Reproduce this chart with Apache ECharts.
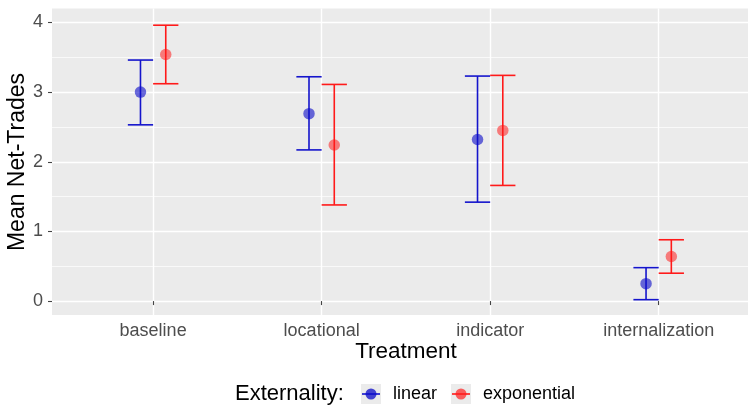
<!DOCTYPE html>
<html>
<head>
<meta charset="utf-8">
<script src="https://cdn.jsdelivr.net/npm/echarts@6/dist/echarts.min.js"></script>
<style>html,body{margin:0;padding:0;background:#fff}#c{width:748px;height:408px}</style>
</head>
<body>
<div id="c"></div>
<script>
// ---- data ----
const categories = ['baseline', 'locational', 'indicator', 'internalization'];
const yTicks = [0, 1, 2, 3, 4];
const linearMean = [3.0, 2.69, 2.32, 0.25];
const linearLow  = [2.53, 2.17, 1.42, 0.02];
const linearHigh = [3.46, 3.22, 3.23, 0.48];
const expMean = [3.54, 2.24, 2.45, 0.64];
const expLow  = [3.12, 1.38, 1.66, 0.40];
const expHigh = [3.96, 3.11, 3.24, 0.88];

const FONT = '"Liberation Sans", Arial, sans-serif';
const DODGE = 0.075;
const BLUE_LINE = '#1414cc', RED_LINE = '#ff1a1a';
const BLUE_PT = 'rgba(10,10,200,0.75)', RED_PT = 'rgba(255,25,25,0.68)';

function barData(low, high, off) {
  return categories.map((c, i) => [i + 1 + off, low[i], high[i]]);
}
function ptData(mean, off) {
  return categories.map((c, i) => [i + 1 + off, mean[i]]);
}
function errRender(color) {
  return function (params, api) {
    const x = api.value(0), lo = api.value(1), hi = api.value(2);
    const top = api.coord([x, hi]), bot = api.coord([x, lo]);
    const half = api.size([DODGE, 0])[0];
    const st = { stroke: color, lineWidth: 1.6 };
    return {
      type: 'group',
      children: [
        { type: 'line', shape: { x1: top[0], y1: top[1], x2: bot[0], y2: bot[1] }, style: st },
        { type: 'line', shape: { x1: top[0] - half, y1: top[1], x2: top[0] + half, y2: top[1] }, style: st },
        { type: 'line', shape: { x1: bot[0] - half, y1: bot[1], x2: bot[0] + half, y2: bot[1] }, style: st }
      ]
    };
  };
}

const chart = echarts.init(document.getElementById('c'), null, { renderer: 'canvas' });
const yMinor = [0.5, 1.5, 2.5, 3.5];
chart.setOption({
  animation: false,
  backgroundColor: '#ffffff',
  grid: { left: 52, right: 0, top: 8.5, bottom: 93, show: true, backgroundColor: '#EBEBEB', borderWidth: 0 },
  xAxis: {
    type: 'value', min: 0.4, max: 4.53,
    axisLine: { show: false },
    axisTick: { show: true, length: 4, lineStyle: { color: '#444444', width: 1.1 }, customValues: [1, 2, 3, 4] },
    axisLabel: { customValues: [1, 2, 3, 4], formatter: v => categories[Math.round(v) - 1] || '',
      color: '#4d4d4d', fontSize: 18, fontFamily: FONT, margin: 7 },
    splitLine: { show: true, lineStyle: { color: '#ffffff', width: 1.4 } }
  },
  yAxis: [{
    type: 'value', min: -0.2, max: 4.2,
    axisLine: { show: false },
    axisTick: { show: true, length: 4, lineStyle: { color: '#444444', width: 1.1 }, customValues: yTicks },
    axisLabel: { customValues: yTicks, color: '#4d4d4d', fontSize: 18, fontFamily: FONT, margin: 9 },
    splitLine: { show: true, lineStyle: { color: '#ffffff', width: 1.4 } }
  }, {
    type: 'value', min: -0.2, max: 4.2, position: 'left',
    axisLine: { show: false },
    axisTick: { show: false, customValues: yMinor },
    axisLabel: { show: false, customValues: yMinor },
    splitLine: { show: true, lineStyle: { color: '#ffffff', width: 0.7 } }
  }],
  graphic: [
    { type: 'text', x: 18, y: 162, rotation: Math.PI / 2,
      style: { text: 'Mean Net-Trades', font: '23px ' + FONT, fill: '#000', align: 'center', verticalAlign: 'middle' } },
    { type: 'text', x: 406, y: 352,
      style: { text: 'Treatment', font: '22.5px ' + FONT, fill: '#000', align: 'center', verticalAlign: 'middle' } },
    { type: 'text', x: 235, y: 394,
      style: { text: 'Externality:', font: '22px ' + FONT, fill: '#000', align: 'left', verticalAlign: 'middle' } },
    { type: 'rect', shape: { x: 361, y: 384, width: 20, height: 20 }, style: { fill: '#EBEBEB' } },
    { type: 'line', shape: { x1: 362, y1: 394, x2: 380, y2: 394 }, style: { stroke: BLUE_LINE, lineWidth: 1.6 } },
    { type: 'circle', shape: { cx: 371, cy: 394, r: 5.5 }, style: { fill: BLUE_PT } },
    { type: 'text', x: 393, y: 394,
      style: { text: 'linear', font: '18px ' + FONT, fill: '#000', align: 'left', verticalAlign: 'middle' } },
    { type: 'rect', shape: { x: 451, y: 384, width: 20, height: 20 }, style: { fill: '#EBEBEB' } },
    { type: 'line', shape: { x1: 452, y1: 394, x2: 470, y2: 394 }, style: { stroke: RED_LINE, lineWidth: 1.6 } },
    { type: 'circle', shape: { cx: 461, cy: 394, r: 5.5 }, style: { fill: RED_PT } },
    { type: 'text', x: 483, y: 394,
      style: { text: 'exponential', font: '18px ' + FONT, fill: '#000', align: 'left', verticalAlign: 'middle' } }
  ],
  series: [
    { type: 'custom', name: 'linear', renderItem: errRender(BLUE_LINE), data: barData(linearLow, linearHigh, -DODGE),
      encode: { x: 0, y: [1, 2] }, z: 2 },
    { type: 'custom', name: 'exponential', renderItem: errRender(RED_LINE), data: barData(expLow, expHigh, DODGE),
      encode: { x: 0, y: [1, 2] }, z: 2 },
    { type: 'scatter', name: 'linear', data: ptData(linearMean, -DODGE), symbolSize: 11.5,
      itemStyle: { color: BLUE_PT }, z: 3 },
    { type: 'scatter', name: 'exponential', data: ptData(expMean, DODGE), symbolSize: 11.5,
      itemStyle: { color: RED_PT }, z: 3 }
  ]
});
</script>
</body>
</html>
